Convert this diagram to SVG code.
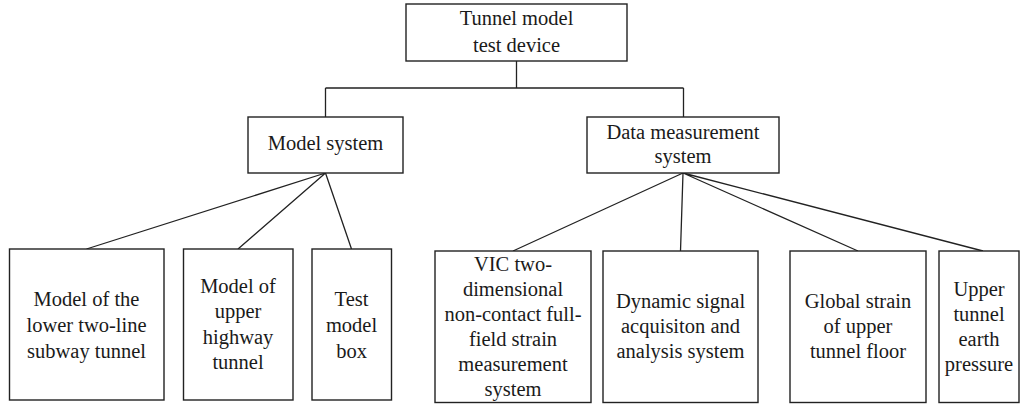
<svg xmlns="http://www.w3.org/2000/svg" width="1021" height="404" viewBox="0 0 1021 404">
  <style>
    .box { fill: #ffffff; stroke: #222222; stroke-width: 1.4; }
    .lbl { font-family: "Liberation Serif", "Times New Roman", serif; font-size: 20.5px; fill: #1a1a1a; text-anchor: middle; }
    .wire { fill: none; stroke: #222222; stroke-width: 1.3; }
  </style>
  <rect width="1021" height="404" fill="#ffffff"/>

  <!-- connectors -->
  <g id="connectors">
    <path class="wire" d="M516.5,61 V88 M325.5,88 H683.5 M325.5,88 V117 M683.5,88 V117"/>
    <path class="wire" d="M325.5,173 L86.5,249 M325.5,173 L238,249 M325.5,173 L351.5,249"/>
    <path class="wire" d="M683,173 L513,251 M683,173 L680.5,251 M683,173 L858,251 M683,173 L983,251"/>
  </g>

  <!-- root -->
  <g id="tunnel-model-test-device">
    <rect class="box" x="406" y="4" width="221" height="57"/>
    <text class="lbl" x="516.5" y="25">Tunnel model</text>
    <text class="lbl" x="516.5" y="52">test device</text>
  </g>

  <!-- second level -->
  <g id="model-system">
    <rect class="box" x="248" y="117" width="155" height="56"/>
    <text class="lbl" x="325.5" y="150">Model system</text>
  </g>
  <g id="data-measurement-system">
    <rect class="box" x="587" y="117" width="192" height="56"/>
    <text class="lbl" x="683" y="138.5">Data measurement</text>
    <text class="lbl" x="683" y="162.5">system</text>
  </g>

  <!-- model system children -->
  <g id="lower-subway-tunnel">
    <rect class="box" x="9.5" y="249" width="154.5" height="151"/>
    <text class="lbl" x="86.5" y="306">Model of the</text>
    <text class="lbl" x="86.5" y="332">lower two-line</text>
    <text class="lbl" x="86.5" y="358">subway tunnel</text>
  </g>
  <g id="upper-highway-tunnel">
    <rect class="box" x="183.5" y="249" width="109.5" height="151"/>
    <text class="lbl" x="238" y="292.5">Model of</text>
    <text class="lbl" x="238" y="318">upper</text>
    <text class="lbl" x="238" y="343.5">highway</text>
    <text class="lbl" x="238" y="369">tunnel</text>
  </g>
  <g id="test-model-box">
    <rect class="box" x="312" y="249" width="79.5" height="151"/>
    <text class="lbl" x="351.5" y="306">Test</text>
    <text class="lbl" x="351.5" y="332">model</text>
    <text class="lbl" x="351.5" y="358">box</text>
  </g>

  <!-- data measurement children -->
  <g id="vic-strain-system">
    <rect class="box" x="435" y="251" width="156" height="151.5"/>
    <text class="lbl" x="513" y="271">VIC two-</text>
    <text class="lbl" x="513" y="296">dimensional</text>
    <text class="lbl" x="513" y="321">non-contact full-</text>
    <text class="lbl" x="513" y="346">field strain</text>
    <text class="lbl" x="513" y="371">measurement</text>
    <text class="lbl" x="513" y="396">system</text>
  </g>
  <g id="dynamic-signal-system">
    <rect class="box" x="603" y="251" width="155" height="151.5"/>
    <text class="lbl" x="680.5" y="308">Dynamic signal</text>
    <text class="lbl" x="680.5" y="333">acquisiton and</text>
    <text class="lbl" x="680.5" y="358">analysis system</text>
  </g>
  <g id="global-strain">
    <rect class="box" x="790" y="251" width="136" height="151.5"/>
    <text class="lbl" x="858" y="308">Global strain</text>
    <text class="lbl" x="858" y="333">of upper</text>
    <text class="lbl" x="858" y="358">tunnel floor</text>
  </g>
  <g id="earth-pressure">
    <rect class="box" x="939" y="251" width="80" height="151.5"/>
    <text class="lbl" x="979" y="295.5">Upper</text>
    <text class="lbl" x="979" y="320.5">tunnel</text>
    <text class="lbl" x="979" y="345.5">earth</text>
    <text class="lbl" x="979" y="370.5">pressure</text>
  </g>
</svg>
